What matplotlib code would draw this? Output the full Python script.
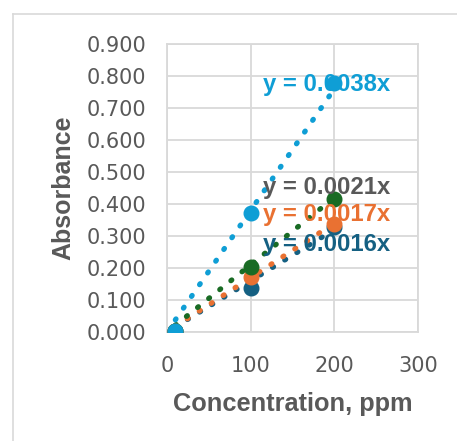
import matplotlib
matplotlib.use('Agg')
import matplotlib.pyplot as plt
from matplotlib.lines import Line2D

# Concentration (ppm) and absorbance readings
conc = [10, 100, 200]
abs_darkblue = [0.002, 0.138, 0.328]
abs_orange = [0.002, 0.173, 0.338]
abs_green = [0.002, 0.204, 0.416]
abs_lightblue = [0.002, 0.372, 0.778]

# Trendline slopes (y = mx)
slopes = [0.0016, 0.0017, 0.0021, 0.0038]
eq_labels = ['y = 0.0016x', 'y = 0.0017x', 'y = 0.0021x', 'y = 0.0038x']
label_y = [0.272, 0.366, 0.453, 0.772]

colors = ['#156082', '#E97132', '#196B24', '#0F9ED5']
label_colors = ['#156082', '#E97132', '#595959', '#0F9ED5']
series = [abs_darkblue, abs_orange, abs_green, abs_lightblue]

x_ticks = [0, 100, 200, 300]
y_ticks = [0.0, 0.1, 0.2, 0.3, 0.4, 0.5, 0.6, 0.7, 0.8, 0.9]

grey = '#595959'
grid_col = '#d9d9d9'

fig = plt.figure(figsize=(4.57, 4.41), dpi=100)
ax = fig.add_axes([167 / 457, 109 / 441, 251 / 457, 288 / 441])

# outer chart border (only top and left visible in the crop)
fig.add_artist(Line2D([13 / 457, 13 / 457], [0, 1 - 14 / 441], transform=fig.transFigure,
                      color='#d9d9d9', lw=1.2))
fig.add_artist(Line2D([13 / 457, 1], [1 - 14 / 441, 1 - 14 / 441], transform=fig.transFigure,
                      color='#d9d9d9', lw=1.2))

# trendlines
for m, c in zip(slopes, colors):
    xs = [conc[0], conc[-1]]
    ys = [m * v for v in xs]
    ax.plot(xs, ys, color=c, lw=3.8, linestyle=(0, (0.2, 2.5)),
            dash_capstyle='round', zorder=3)

# data points
for s, c in zip(series, colors):
    ax.plot(conc, s, 'o', color=c, markersize=10.5, zorder=4)

# equation labels
for lab, yv, c in zip(eq_labels, label_y, label_colors):
    ax.text(191, yv, lab, color=c, fontsize=17.2, fontweight='bold',
            family='Liberation Sans', ha='center', va='center', zorder=5)

ax.set_xlim(0, 300)
ax.set_ylim(0, 0.9)
ax.set_xticks(x_ticks)
ax.set_yticks(y_ticks)
ax.set_xticklabels([str(v) for v in x_ticks])
ax.set_yticklabels(['%.3f' % v for v in y_ticks])
ax.tick_params(length=0, labelsize=15, labelcolor=grey)
ax.tick_params(axis='y', pad=15)
ax.tick_params(axis='x', pad=17)
for lab in ax.get_xticklabels() + ax.get_yticklabels():
    lab.set_family('DejaVu Sans')
ax.grid(True, color=grid_col, lw=1.3)
ax.set_axisbelow(True)
for sp in ax.spines.values():
    sp.set_color(grid_col)
    sp.set_linewidth(1.3)

ax.set_xlabel('Concentration, ppm', fontsize=18.3, fontweight='bold', color=grey,
              family='Liberation Sans', labelpad=12)
ax.set_ylabel('Absorbance', fontsize=18, fontweight='bold', color=grey,
              family='Liberation Sans', labelpad=8)

fig.savefig('out.png', dpi=100)
